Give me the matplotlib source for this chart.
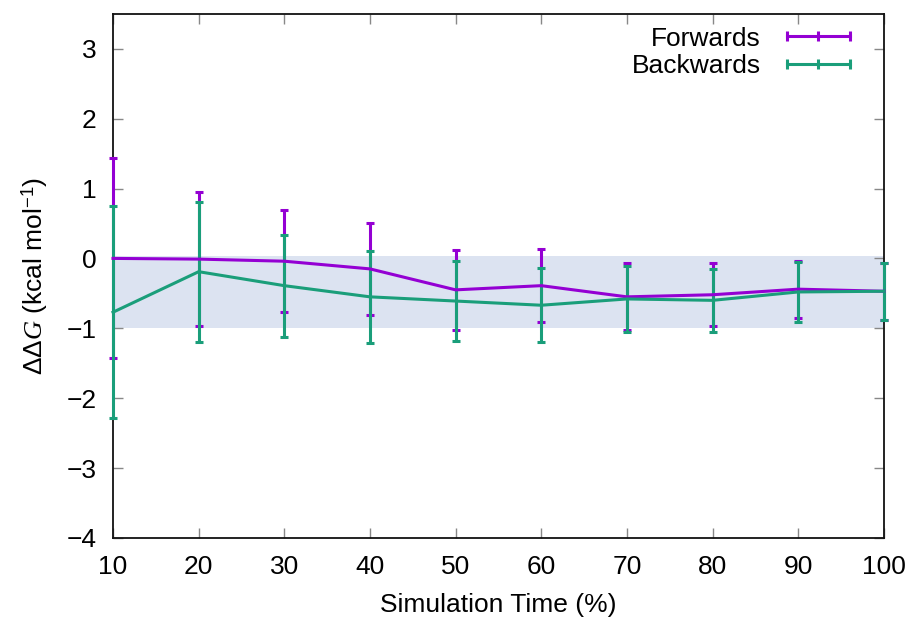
import matplotlib
matplotlib.use("Agg")
import matplotlib.pyplot as plt
from matplotlib.lines import Line2D

plt.rcParams['font.family'] = ['Liberation Sans', 'DejaVu Sans']
plt.rcParams['mathtext.fontset'] = 'custom'
plt.rcParams['mathtext.rm'] = 'Liberation Sans'
plt.rcParams['mathtext.it'] = 'Liberation Serif:italic'

# Simulation time fractions (%)
time_pct = [10, 20, 30, 40, 50, 60, 70, 80, 90, 100]

# Forward estimates of ddG and their uncertainties (kcal/mol)
fwd_mean = [0.00, -0.01, -0.04, -0.15, -0.45, -0.39, -0.55, -0.52, -0.44, -0.47]
fwd_err = [1.43, 0.96, 0.73, 0.66, 0.57, 0.52, 0.48, 0.45, 0.41, 0.41]

# Backward estimates of ddG and their uncertainties (kcal/mol)
bwd_mean = [-0.77, -0.19, -0.39, -0.55, -0.61, -0.67, -0.58, -0.60, -0.48, -0.47]
bwd_err = [1.52, 1.00, 0.73, 0.66, 0.57, 0.53, 0.47, 0.45, 0.43, 0.41]

# Reference band (kcal/mol)
band_low, band_high = -1.0, 0.04

purple = '#9400D3'
green = '#1a9e7a'
FS = 19

fig = plt.figure(figsize=(9.15, 6.27), dpi=100)
ax = fig.add_axes([0.1235, 0.142, 0.8425, 0.836])

ax.axhspan(band_low, band_high, color='#dce3f1', zorder=0, lw=0)

for mean, err, col in [(fwd_mean, fwd_err, purple), (bwd_mean, bwd_err, green)]:
    eb = ax.errorbar(time_pct, mean, yerr=err, color=col, lw=2.2, elinewidth=2.2,
                     capsize=2.8, capthick=2.2, zorder=3)
    line, caps, bars = eb.lines
    for art in [line, *caps, *bars]:
        art.set_clip_on(False)

ax.set_xlim(10, 100)
ax.set_ylim(-4, 3.5)
ax.set_xticks(time_pct)
ax.set_yticks([-4, -3, -2, -1, 0, 1, 2, 3])
ax.set_yticklabels(['\u22124', '\u22123', '\u22122', '\u22121', '0', '1', '2', '3'])
ax.tick_params(direction='in', top=True, right=True, length=7, width=1.0,
               labelsize=FS, color='#888888')
ax.tick_params(axis='x', pad=12)
ax.tick_params(axis='y', pad=12)
for s in ax.spines.values():
    s.set_linewidth(1.3)
    s.set_color('#111111')

ax.set_xlabel('Simulation Time (%)', fontsize=FS, labelpad=10)
ax.set_ylabel(r'$\Delta\Delta \mathit{G}$ (kcal mol$^{-1}$)', fontsize=FS, labelpad=12)

handles = [Line2D([0], [0], color=purple, lw=2.2, marker='|', markersize=7, mew=2.2),
           Line2D([0], [0], color=green, lw=2.2, marker='|', markersize=7, mew=2.2)]
ax.legend(handles, ['Forwards', 'Backwards'], loc='upper right', frameon=False,
          markerfirst=False, numpoints=3, fontsize=FS, handlelength=3.0,
          handletextpad=0.68, labelspacing=0.12, borderpad=0.4,
          bbox_to_anchor=(0.9635, 0.9955), bbox_transform=fig.transFigure)

fig.savefig('out.png', dpi=100)
